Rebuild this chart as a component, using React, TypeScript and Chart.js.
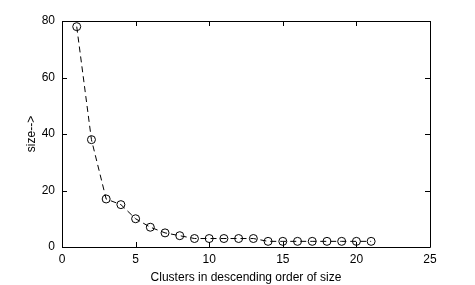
import React, { useEffect, useRef } from "react";
import { Chart, registerables } from "chart.js";

Chart.register(...registerables);

const clusterIndex = [1, 2, 3, 4, 5, 6, 7, 8, 9, 10, 11, 12, 13, 14, 15, 16, 17, 18, 19, 20, 21];
const clusterSizes = [78, 38, 17, 15, 10, 7, 5, 4, 3, 3, 3, 3, 3, 2, 2, 2, 2, 2, 2, 2, 2];
const xTicks = [0, 5, 10, 15, 20, 25];
const yTicks = [0, 20, 40, 60, 80];
const xTitle = "Clusters in descending order of size";
const yTitle = "size-->";

const FONT = "'Liberation Sans', Arial, Helvetica, sans-serif";

const framePlugin = {
  id: "matlabFrame",
  afterDraw(chart: any) {
    const { ctx, chartArea } = chart;
    const { left, right, top, bottom } = chartArea;
    const xs = chart.scales.x;
    const ys = chart.scales.y;
    const L = 5;
    ctx.save();
    ctx.strokeStyle = "#000";
    ctx.lineWidth = 1;
    ctx.beginPath();
    ctx.rect(Math.round(left) + 0.5, Math.round(top) + 0.5, Math.round(right - left), Math.round(bottom - top));
    for (const v of xTicks) {
      const px = Math.round(xs.getPixelForValue(v)) + 0.5;
      ctx.moveTo(px, bottom);
      ctx.lineTo(px, bottom - L);
      ctx.moveTo(px, top);
      ctx.lineTo(px, top + L);
    }
    for (const v of yTicks) {
      const py = Math.round(ys.getPixelForValue(v)) + 0.5;
      ctx.moveTo(left, py);
      ctx.lineTo(left + L, py);
      ctx.moveTo(right, py);
      ctx.lineTo(right - L, py);
    }
    ctx.stroke();
    ctx.restore();
  },
};

export default function App() {
  const ref = useRef<HTMLCanvasElement | null>(null);
  useEffect(() => {
    document.body.style.margin = "0";
    const canvas = ref.current!;
    const chart = new Chart(canvas, {
      type: "line",
      data: {
        datasets: [
          {
            data: clusterIndex.map((x, i) => ({ x, y: clusterSizes[i] })),
            borderColor: "#000",
            borderWidth: 1,
            borderDash: [6, 4],
            pointRadius: 4,
            pointStyle: "circle",
            pointBorderColor: "#000",
            pointBorderWidth: 1,
            pointBackgroundColor: "rgba(0,0,0,0)",
            tension: 0,
            fill: false,
          },
        ],
      },
      options: {
        responsive: false,
        animation: false,
        devicePixelRatio: 1,
        layout: { padding: { top: 21, right: 45, left: 24, bottom: 0 } },
        plugins: { legend: { display: false }, tooltip: { enabled: false } },
        scales: {
          x: {
            type: "linear",
            min: 0,
            max: 25,
            grid: { display: false, drawTicks: false },
            border: { display: false },
            afterBuildTicks: (s: any) => {
              s.ticks = xTicks.map((v) => ({ value: v }));
            },
            afterFit: (s: any) => {
              s.height = 38;
            },
            ticks: { color: "#000", font: { family: FONT, size: 12 }, padding: 5, maxRotation: 0 },
            title: { display: true, text: xTitle, color: "#000", font: { family: FONT, size: 12 }, padding: { top: 2, bottom: 0 } },
          },
          y: {
            type: "linear",
            min: 0,
            max: 80,
            grid: { display: false, drawTicks: false },
            border: { display: false },
            afterBuildTicks: (s: any) => {
              s.ticks = yTicks.map((v) => ({ value: v }));
            },
            afterFit: (s: any) => {
              s.width = 38;
            },
            ticks: { color: "#000", font: { family: FONT, size: 12 }, padding: 7 },
            title: { display: true, text: yTitle, color: "#000", font: { family: FONT, size: 12 }, padding: { top: 0, bottom: 0 } },
          },
        },
      },
      plugins: [framePlugin],
    });
    return () => chart.destroy();
  }, []);
  return <canvas ref={ref} width={475} height={285} style={{ display: "block" }} />;
}
